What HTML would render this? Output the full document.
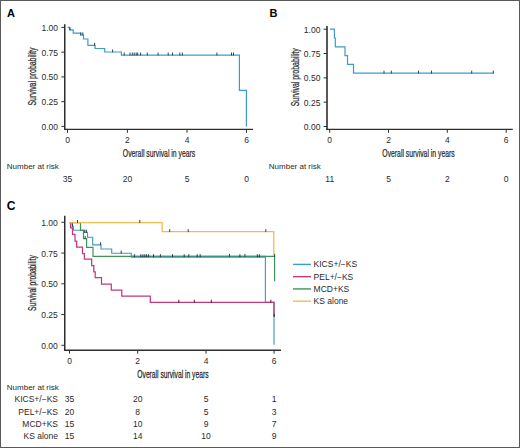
<!DOCTYPE html>
<html><head><meta charset="utf-8"><style>
html,body{margin:0;padding:0;background:#fff;width:520px;height:448px;overflow:hidden;}
body{position:relative;font-family:"Liberation Sans", sans-serif;}
</style></head><body>
<svg width="520" height="448" viewBox="0 0 520 448" style="position:absolute;left:0;top:0;font-family:&quot;Liberation Sans&quot;, sans-serif">
<rect x="0" y="0" width="520" height="448" fill="#fff"/>
<rect x="0.5" y="0.5" width="519" height="447" fill="none" stroke="#5a5a5a" stroke-width="1"/>
<text x="7" y="16.8" font-size="11" text-anchor="start" font-weight="bold" fill="#000" >A</text>
<text x="269.6" y="16.8" font-size="11" text-anchor="start" font-weight="bold" fill="#000" >B</text>
<text x="6.8" y="209.5" font-size="12.1" text-anchor="start" font-weight="bold" fill="#000" >C</text>
<line x1="64.75" y1="24.2" x2="64.75" y2="130.0" stroke="#2e2e2e" stroke-width="1.5"/>
<line x1="64.0" y1="129.35" x2="253" y2="129.35" stroke="#2e2e2e" stroke-width="1.3"/>
<line x1="61.35" y1="27.4" x2="64.75" y2="27.4" stroke="#2e2e2e" stroke-width="1.0"/>
<text x="58.0" y="30.9" font-size="8.5" text-anchor="end" font-weight="normal" fill="#2a2a2a" >1.00</text>
<line x1="61.35" y1="52.15" x2="64.75" y2="52.15" stroke="#2e2e2e" stroke-width="1.0"/>
<text x="58.0" y="55.65" font-size="8.5" text-anchor="end" font-weight="normal" fill="#2a2a2a" >0.75</text>
<line x1="61.35" y1="76.9" x2="64.75" y2="76.9" stroke="#2e2e2e" stroke-width="1.0"/>
<text x="58.0" y="80.4" font-size="8.5" text-anchor="end" font-weight="normal" fill="#2a2a2a" >0.50</text>
<line x1="61.35" y1="101.65" x2="64.75" y2="101.65" stroke="#2e2e2e" stroke-width="1.0"/>
<text x="58.0" y="105.15" font-size="8.5" text-anchor="end" font-weight="normal" fill="#2a2a2a" >0.25</text>
<line x1="61.35" y1="126.4" x2="64.75" y2="126.4" stroke="#2e2e2e" stroke-width="1.0"/>
<text x="58.0" y="129.9" font-size="8.5" text-anchor="end" font-weight="normal" fill="#2a2a2a" >0.00</text>
<line x1="67.5" y1="129.35" x2="67.5" y2="132.75" stroke="#2e2e2e" stroke-width="1.0"/>
<text x="67.5" y="142.6" font-size="8.5" text-anchor="middle" font-weight="normal" fill="#2a2a2a" >0</text>
<line x1="127.4" y1="129.35" x2="127.4" y2="132.75" stroke="#2e2e2e" stroke-width="1.0"/>
<text x="127.4" y="142.6" font-size="8.5" text-anchor="middle" font-weight="normal" fill="#2a2a2a" >2</text>
<line x1="187.0" y1="129.35" x2="187.0" y2="132.75" stroke="#2e2e2e" stroke-width="1.0"/>
<text x="187.0" y="142.6" font-size="8.5" text-anchor="middle" font-weight="normal" fill="#2a2a2a" >4</text>
<line x1="246.5" y1="129.35" x2="246.5" y2="132.75" stroke="#2e2e2e" stroke-width="1.0"/>
<text x="246.5" y="142.6" font-size="8.5" text-anchor="middle" font-weight="normal" fill="#2a2a2a" >6</text>
<text transform="translate(159,156.9) scale(0.65,1)" x="0" y="0" font-size="10.5" text-anchor="middle" fill="#2a2a2a" stroke="#2a2a2a" stroke-width="0.25">Overall survival in years</text>
<text transform="translate(35.6,76.6) rotate(-90) scale(0.66,1)" x="0" y="0" font-size="10.5" text-anchor="middle" fill="#2a2a2a" stroke="#2a2a2a" stroke-width="0.25">Survival probability</text>
<text x="6.8" y="169.3" font-size="8" text-anchor="start" font-weight="normal" fill="#2a2a2a" >Number at risk</text>
<text x="67.5" y="181.5" font-size="8.5" text-anchor="middle" font-weight="normal" fill="#2a2a2a" >35</text>
<text x="127.4" y="181.5" font-size="8.5" text-anchor="middle" font-weight="normal" fill="#2a2a2a" >20</text>
<text x="187.0" y="181.5" font-size="8.5" text-anchor="middle" font-weight="normal" fill="#2a2a2a" >5</text>
<text x="246.5" y="181.5" font-size="8.5" text-anchor="middle" font-weight="normal" fill="#2a2a2a" >0</text>
<path d="M67.6,27.3 H69.5 V29.9 H73.2 V33.2 H80.6 V35.0 H83.5 V39.0 H87.9 V45.4 H95.1 V48.5 H104.7 V52.0 H121.4 V55.1 H239.4 V90.4 H246.4 V126.4" fill="none" stroke="#3d9cc9" stroke-width="1.2" stroke-linejoin="miter" stroke-linecap="butt"/>
<line x1="70" y1="27.3" x2="70" y2="30.3" stroke="#1d3550" stroke-width="0.9"/>
<line x1="80.9" y1="32.4" x2="80.9" y2="35.4" stroke="#1d3550" stroke-width="0.9"/>
<line x1="82.8" y1="32.4" x2="82.8" y2="35.4" stroke="#1d3550" stroke-width="0.9"/>
<line x1="94.6" y1="42.8" x2="94.6" y2="45.8" stroke="#1d3550" stroke-width="0.9"/>
<line x1="112.6" y1="49.4" x2="112.6" y2="52.4" stroke="#1d3550" stroke-width="0.9"/>
<line x1="124.2" y1="52.5" x2="124.2" y2="55.5" stroke="#1d3550" stroke-width="0.9"/>
<line x1="130" y1="52.5" x2="130" y2="55.5" stroke="#1d3550" stroke-width="0.9"/>
<line x1="132.3" y1="52.5" x2="132.3" y2="55.5" stroke="#1d3550" stroke-width="0.9"/>
<line x1="134.2" y1="52.5" x2="134.2" y2="55.5" stroke="#1d3550" stroke-width="0.9"/>
<line x1="136.2" y1="52.5" x2="136.2" y2="55.5" stroke="#1d3550" stroke-width="0.9"/>
<line x1="137.7" y1="52.5" x2="137.7" y2="55.5" stroke="#1d3550" stroke-width="0.9"/>
<line x1="140.6" y1="52.5" x2="140.6" y2="55.5" stroke="#1d3550" stroke-width="0.9"/>
<line x1="147.3" y1="52.5" x2="147.3" y2="55.5" stroke="#1d3550" stroke-width="0.9"/>
<line x1="158.1" y1="52.5" x2="158.1" y2="55.5" stroke="#1d3550" stroke-width="0.9"/>
<line x1="168.2" y1="52.5" x2="168.2" y2="55.5" stroke="#1d3550" stroke-width="0.9"/>
<line x1="172.5" y1="52.5" x2="172.5" y2="55.5" stroke="#1d3550" stroke-width="0.9"/>
<line x1="179.8" y1="52.5" x2="179.8" y2="55.5" stroke="#1d3550" stroke-width="0.9"/>
<line x1="182.3" y1="52.5" x2="182.3" y2="55.5" stroke="#1d3550" stroke-width="0.9"/>
<line x1="216.9" y1="52.5" x2="216.9" y2="55.5" stroke="#1d3550" stroke-width="0.9"/>
<line x1="231.5" y1="52.5" x2="231.5" y2="55.5" stroke="#1d3550" stroke-width="0.9"/>
<line x1="233.5" y1="52.5" x2="233.5" y2="55.5" stroke="#1d3550" stroke-width="0.9"/>
<line x1="327.0" y1="26" x2="327.0" y2="130.0" stroke="#2e2e2e" stroke-width="1.6"/>
<line x1="326.2" y1="129.35" x2="512.8" y2="129.35" stroke="#2e2e2e" stroke-width="1.3"/>
<line x1="323.6" y1="29.2" x2="327.0" y2="29.2" stroke="#2e2e2e" stroke-width="1.0"/>
<text x="320.4" y="32.7" font-size="8.5" text-anchor="end" font-weight="normal" fill="#2a2a2a" >1.00</text>
<line x1="323.6" y1="53.53" x2="327.0" y2="53.53" stroke="#2e2e2e" stroke-width="1.0"/>
<text x="320.4" y="57.03" font-size="8.5" text-anchor="end" font-weight="normal" fill="#2a2a2a" >0.75</text>
<line x1="323.6" y1="77.85" x2="327.0" y2="77.85" stroke="#2e2e2e" stroke-width="1.0"/>
<text x="320.4" y="81.35" font-size="8.5" text-anchor="end" font-weight="normal" fill="#2a2a2a" >0.50</text>
<line x1="323.6" y1="102.17" x2="327.0" y2="102.17" stroke="#2e2e2e" stroke-width="1.0"/>
<text x="320.4" y="105.67" font-size="8.5" text-anchor="end" font-weight="normal" fill="#2a2a2a" >0.25</text>
<line x1="323.6" y1="126.5" x2="327.0" y2="126.5" stroke="#2e2e2e" stroke-width="1.0"/>
<text x="320.4" y="130.0" font-size="8.5" text-anchor="end" font-weight="normal" fill="#2a2a2a" >0.00</text>
<line x1="329.7" y1="129.35" x2="329.7" y2="132.75" stroke="#2e2e2e" stroke-width="1.0"/>
<text x="329.7" y="142.6" font-size="8.5" text-anchor="middle" font-weight="normal" fill="#2a2a2a" >0</text>
<line x1="388.5" y1="129.35" x2="388.5" y2="132.75" stroke="#2e2e2e" stroke-width="1.0"/>
<text x="388.5" y="142.6" font-size="8.5" text-anchor="middle" font-weight="normal" fill="#2a2a2a" >2</text>
<line x1="447.3" y1="129.35" x2="447.3" y2="132.75" stroke="#2e2e2e" stroke-width="1.0"/>
<text x="447.3" y="142.6" font-size="8.5" text-anchor="middle" font-weight="normal" fill="#2a2a2a" >4</text>
<line x1="506.2" y1="129.35" x2="506.2" y2="132.75" stroke="#2e2e2e" stroke-width="1.0"/>
<text x="506.2" y="142.6" font-size="8.5" text-anchor="middle" font-weight="normal" fill="#2a2a2a" >6</text>
<text transform="translate(418.5,156.9) scale(0.65,1)" x="0" y="0" font-size="10.5" text-anchor="middle" fill="#2a2a2a" stroke="#2a2a2a" stroke-width="0.25">Overall survival in years</text>
<text transform="translate(298.6,77.3) rotate(-90) scale(0.66,1)" x="0" y="0" font-size="10.5" text-anchor="middle" fill="#2a2a2a" stroke="#2a2a2a" stroke-width="0.25">Survival probability</text>
<text x="268.8" y="169.3" font-size="8" text-anchor="start" font-weight="normal" fill="#2a2a2a" >Number at risk</text>
<text x="329.7" y="181.5" font-size="8.5" text-anchor="middle" font-weight="normal" fill="#2a2a2a" >11</text>
<text x="388.5" y="181.5" font-size="8.5" text-anchor="middle" font-weight="normal" fill="#2a2a2a" >5</text>
<text x="447.3" y="181.5" font-size="8.5" text-anchor="middle" font-weight="normal" fill="#2a2a2a" >2</text>
<text x="506.2" y="181.5" font-size="8.5" text-anchor="middle" font-weight="normal" fill="#2a2a2a" >0</text>
<path d="M330,29.2 H334.4 V38.0 H335.3 V46.9 H345 V55.6 H347.5 V64.4 H353.5 V73.2 H493.6" fill="none" stroke="#3d9cc9" stroke-width="1.2" stroke-linejoin="miter" stroke-linecap="butt"/>
<line x1="384" y1="70.6" x2="384" y2="73.6" stroke="#1d3550" stroke-width="0.9"/>
<line x1="391.3" y1="70.6" x2="391.3" y2="73.6" stroke="#1d3550" stroke-width="0.9"/>
<line x1="418.5" y1="70.6" x2="418.5" y2="73.6" stroke="#1d3550" stroke-width="0.9"/>
<line x1="431.5" y1="70.6" x2="431.5" y2="73.6" stroke="#1d3550" stroke-width="0.9"/>
<line x1="471.7" y1="70.6" x2="471.7" y2="73.6" stroke="#1d3550" stroke-width="0.9"/>
<line x1="493.3" y1="70.6" x2="493.3" y2="73.6" stroke="#1d3550" stroke-width="0.9"/>
<line x1="64.75" y1="215.8" x2="64.75" y2="351.0" stroke="#2e2e2e" stroke-width="1.5"/>
<line x1="64.0" y1="350.25" x2="281" y2="350.25" stroke="#2e2e2e" stroke-width="1.5"/>
<line x1="61.35" y1="222.3" x2="64.75" y2="222.3" stroke="#2e2e2e" stroke-width="1.0"/>
<text x="57.8" y="225.8" font-size="8.5" text-anchor="end" font-weight="normal" fill="#2a2a2a" >1.00</text>
<line x1="61.35" y1="253.05" x2="64.75" y2="253.05" stroke="#2e2e2e" stroke-width="1.0"/>
<text x="57.8" y="256.55" font-size="8.5" text-anchor="end" font-weight="normal" fill="#2a2a2a" >0.75</text>
<line x1="61.35" y1="283.8" x2="64.75" y2="283.8" stroke="#2e2e2e" stroke-width="1.0"/>
<text x="57.8" y="287.3" font-size="8.5" text-anchor="end" font-weight="normal" fill="#2a2a2a" >0.50</text>
<line x1="61.35" y1="314.55" x2="64.75" y2="314.55" stroke="#2e2e2e" stroke-width="1.0"/>
<text x="57.8" y="318.05" font-size="8.5" text-anchor="end" font-weight="normal" fill="#2a2a2a" >0.25</text>
<line x1="61.35" y1="345.3" x2="64.75" y2="345.3" stroke="#2e2e2e" stroke-width="1.0"/>
<text x="57.8" y="348.8" font-size="8.5" text-anchor="end" font-weight="normal" fill="#2a2a2a" >0.00</text>
<line x1="69.5" y1="350.25" x2="69.5" y2="353.65" stroke="#2e2e2e" stroke-width="1.0"/>
<text x="69.5" y="364.2" font-size="8.5" text-anchor="middle" font-weight="normal" fill="#2a2a2a" >0</text>
<line x1="137.7" y1="350.25" x2="137.7" y2="353.65" stroke="#2e2e2e" stroke-width="1.0"/>
<text x="137.7" y="364.2" font-size="8.5" text-anchor="middle" font-weight="normal" fill="#2a2a2a" >2</text>
<line x1="206.0" y1="350.25" x2="206.0" y2="353.65" stroke="#2e2e2e" stroke-width="1.0"/>
<text x="206.0" y="364.2" font-size="8.5" text-anchor="middle" font-weight="normal" fill="#2a2a2a" >4</text>
<line x1="274.1" y1="350.25" x2="274.1" y2="353.65" stroke="#2e2e2e" stroke-width="1.0"/>
<text x="274.1" y="364.2" font-size="8.5" text-anchor="middle" font-weight="normal" fill="#2a2a2a" >6</text>
<text transform="translate(172.9,378.0) scale(0.64,1)" x="0" y="0" font-size="10.5" text-anchor="middle" fill="#2a2a2a" stroke="#2a2a2a" stroke-width="0.25">Overall survival in years</text>
<text transform="translate(35.8,283) rotate(-90) scale(0.635,1)" x="0" y="0" font-size="10.5" text-anchor="middle" fill="#2a2a2a" stroke="#2a2a2a" stroke-width="0.25">Survival probability</text>
<path d="M69.8,222.6 H72.3 V226.2 H73.4 V230.2 H83.8 V232.3 H87.5 V237.2 H92.7 V244.8 H101.0 V249.0 H111.7 V253.2 H131.3 V256.9 H265.4 V302.3 H274.0 V344.8" fill="none" stroke="#3d9cc9" stroke-width="1.15" stroke-linejoin="miter" stroke-linecap="butt"/>
<path d="M69.8,222.6 H70.6 V227.9 H72.5 V234.4 H75.0 V241.0 H76.7 V247.1 H82.5 V253.5 H84.4 V259.2 H91.7 V265.6 H93.8 V271.9 H95.2 V277.7 H101.5 V284.0 H111.3 V290.2 H121.8 V296.2 H150.3 V302.3 H274.0 V316.4" fill="none" stroke="#c03a7c" stroke-width="1.25" stroke-linejoin="miter" stroke-linecap="butt"/>
<path d="M69.8,222.6 H80.5 V230.3 H83.5 V238.7 H86.6 V247.4 H93.0 V256.3 H274.6 V281.3" fill="none" stroke="#3f9258" stroke-width="1.2" stroke-linejoin="miter" stroke-linecap="butt"/>
<line x1="131.3" y1="256.7" x2="265.4" y2="256.7" stroke="#3a9488" stroke-width="1.7"/>
<path d="M69.6,222.6 H162.2 V231.7 H273.8 V256.0" fill="none" stroke="#efbd55" stroke-width="1.3" stroke-linejoin="miter" stroke-linecap="butt"/>
<line x1="77.5" y1="220.0" x2="77.5" y2="223.0" stroke="#3a2a10" stroke-width="0.9"/>
<line x1="139.8" y1="220.0" x2="139.8" y2="223.0" stroke="#3a2a10" stroke-width="0.9"/>
<line x1="169.7" y1="229.1" x2="169.7" y2="232.1" stroke="#3a2a10" stroke-width="0.9"/>
<line x1="188.2" y1="229.1" x2="188.2" y2="232.1" stroke="#3a2a10" stroke-width="0.9"/>
<line x1="265.8" y1="229.1" x2="265.8" y2="232.1" stroke="#3a2a10" stroke-width="0.9"/>
<line x1="85.2" y1="236.1" x2="85.2" y2="239.1" stroke="#1d3a25" stroke-width="0.9"/>
<line x1="229.5" y1="253.9" x2="229.5" y2="256.9" stroke="#1d3a25" stroke-width="0.9"/>
<line x1="244.9" y1="253.9" x2="244.9" y2="256.9" stroke="#1d3a25" stroke-width="0.9"/>
<line x1="274.6" y1="253.9" x2="274.6" y2="256.9" stroke="#1d3a25" stroke-width="0.9"/>
<line x1="72.4" y1="223.6" x2="72.4" y2="226.6" stroke="#123040" stroke-width="0.9"/>
<line x1="84.8" y1="229.7" x2="84.8" y2="232.7" stroke="#123040" stroke-width="0.9"/>
<line x1="86.4" y1="229.7" x2="86.4" y2="232.7" stroke="#123040" stroke-width="0.9"/>
<line x1="100.6" y1="242.2" x2="100.6" y2="245.2" stroke="#123040" stroke-width="0.9"/>
<line x1="121.2" y1="250.6" x2="121.2" y2="253.6" stroke="#123040" stroke-width="0.9"/>
<line x1="134.4" y1="254.2" x2="134.4" y2="257.2" stroke="#123040" stroke-width="0.9"/>
<line x1="140.8" y1="254.2" x2="140.8" y2="257.2" stroke="#123040" stroke-width="0.9"/>
<line x1="142.9" y1="254.2" x2="142.9" y2="257.2" stroke="#123040" stroke-width="0.9"/>
<line x1="144.8" y1="254.2" x2="144.8" y2="257.2" stroke="#123040" stroke-width="0.9"/>
<line x1="146.6" y1="254.2" x2="146.6" y2="257.2" stroke="#123040" stroke-width="0.9"/>
<line x1="148.6" y1="254.2" x2="148.6" y2="257.2" stroke="#123040" stroke-width="0.9"/>
<line x1="153.5" y1="254.2" x2="153.5" y2="257.2" stroke="#123040" stroke-width="0.9"/>
<line x1="160.4" y1="254.2" x2="160.4" y2="257.2" stroke="#123040" stroke-width="0.9"/>
<line x1="172.5" y1="254.2" x2="172.5" y2="257.2" stroke="#123040" stroke-width="0.9"/>
<line x1="184.2" y1="254.2" x2="184.2" y2="257.2" stroke="#123040" stroke-width="0.9"/>
<line x1="188.8" y1="254.2" x2="188.8" y2="257.2" stroke="#123040" stroke-width="0.9"/>
<line x1="197.2" y1="254.2" x2="197.2" y2="257.2" stroke="#123040" stroke-width="0.9"/>
<line x1="200.2" y1="254.2" x2="200.2" y2="257.2" stroke="#123040" stroke-width="0.9"/>
<line x1="239.9" y1="254.2" x2="239.9" y2="257.2" stroke="#123040" stroke-width="0.9"/>
<line x1="257.3" y1="254.2" x2="257.3" y2="257.2" stroke="#123040" stroke-width="0.9"/>
<line x1="259.4" y1="254.2" x2="259.4" y2="257.2" stroke="#123040" stroke-width="0.9"/>
<line x1="178.8" y1="299.7" x2="178.8" y2="302.7" stroke="#3a1025" stroke-width="0.9"/>
<line x1="194.3" y1="299.7" x2="194.3" y2="302.7" stroke="#3a1025" stroke-width="0.9"/>
<line x1="211.3" y1="299.7" x2="211.3" y2="302.7" stroke="#3a1025" stroke-width="0.9"/>
<line x1="270.8" y1="299.7" x2="270.8" y2="302.7" stroke="#3a1025" stroke-width="0.9"/>
<line x1="274.2" y1="313.8" x2="274.2" y2="316.8" stroke="#3a1025" stroke-width="0.9"/>
<line x1="293.0" y1="264.4" x2="311.0" y2="264.4" stroke="#3d9cc9" stroke-width="1.4"/>
<text x="313.6" y="267.4" font-size="8.5" text-anchor="start" font-weight="normal" fill="#2a2a2a" >KICS+/−KS</text>
<line x1="293.0" y1="276.67" x2="311.0" y2="276.67" stroke="#c03a7c" stroke-width="1.4"/>
<text x="313.6" y="279.67" font-size="8.5" text-anchor="start" font-weight="normal" fill="#2a2a2a" >PEL+/−KS</text>
<line x1="293.0" y1="288.94" x2="311.0" y2="288.94" stroke="#3f9258" stroke-width="1.4"/>
<text x="313.6" y="291.94" font-size="8.5" text-anchor="start" font-weight="normal" fill="#2a2a2a" >MCD+KS</text>
<line x1="293.0" y1="301.21" x2="311.0" y2="301.21" stroke="#efbd55" stroke-width="1.4"/>
<text x="313.6" y="304.21" font-size="8.5" text-anchor="start" font-weight="normal" fill="#2a2a2a" >KS alone</text>
<text x="6.8" y="389.5" font-size="8" text-anchor="start" font-weight="normal" fill="#2a2a2a" >Number at risk</text>
<text x="58.0" y="402.3" font-size="8.5" text-anchor="end" font-weight="normal" fill="#2a2a2a" >KICS+/−KS</text>
<text x="69.5" y="402.3" font-size="8.5" text-anchor="middle" font-weight="normal" fill="#2a2a2a" >35</text>
<text x="137.7" y="402.3" font-size="8.5" text-anchor="middle" font-weight="normal" fill="#2a2a2a" >20</text>
<text x="206.0" y="402.3" font-size="8.5" text-anchor="middle" font-weight="normal" fill="#2a2a2a" >5</text>
<text x="274.1" y="402.3" font-size="8.5" text-anchor="middle" font-weight="normal" fill="#2a2a2a" >1</text>
<text x="58.0" y="414.63" font-size="8.5" text-anchor="end" font-weight="normal" fill="#2a2a2a" >PEL+/−KS</text>
<text x="69.5" y="414.63" font-size="8.5" text-anchor="middle" font-weight="normal" fill="#2a2a2a" >20</text>
<text x="137.7" y="414.63" font-size="8.5" text-anchor="middle" font-weight="normal" fill="#2a2a2a" >8</text>
<text x="206.0" y="414.63" font-size="8.5" text-anchor="middle" font-weight="normal" fill="#2a2a2a" >5</text>
<text x="274.1" y="414.63" font-size="8.5" text-anchor="middle" font-weight="normal" fill="#2a2a2a" >3</text>
<text x="58.0" y="426.96" font-size="8.5" text-anchor="end" font-weight="normal" fill="#2a2a2a" >MCD+KS</text>
<text x="69.5" y="426.96" font-size="8.5" text-anchor="middle" font-weight="normal" fill="#2a2a2a" >15</text>
<text x="137.7" y="426.96" font-size="8.5" text-anchor="middle" font-weight="normal" fill="#2a2a2a" >10</text>
<text x="206.0" y="426.96" font-size="8.5" text-anchor="middle" font-weight="normal" fill="#2a2a2a" >9</text>
<text x="274.1" y="426.96" font-size="8.5" text-anchor="middle" font-weight="normal" fill="#2a2a2a" >7</text>
<text x="58.0" y="439.29" font-size="8.5" text-anchor="end" font-weight="normal" fill="#2a2a2a" >KS alone</text>
<text x="69.5" y="439.29" font-size="8.5" text-anchor="middle" font-weight="normal" fill="#2a2a2a" >15</text>
<text x="137.7" y="439.29" font-size="8.5" text-anchor="middle" font-weight="normal" fill="#2a2a2a" >14</text>
<text x="206.0" y="439.29" font-size="8.5" text-anchor="middle" font-weight="normal" fill="#2a2a2a" >10</text>
<text x="274.1" y="439.29" font-size="8.5" text-anchor="middle" font-weight="normal" fill="#2a2a2a" >9</text>
</svg>
</body></html>
